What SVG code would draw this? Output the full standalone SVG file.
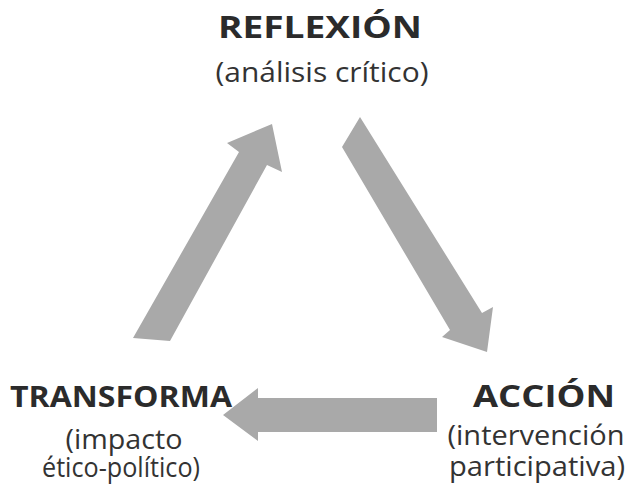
<svg xmlns="http://www.w3.org/2000/svg" width="629" height="490" viewBox="0 0 629 490">
<style>
.t{font-family:"Open Sans","Noto Sans","Liberation Sans",sans-serif;fill:#2b2b2b;text-anchor:middle}
.b{font-weight:bold}
.s{font-size:27px;fill:#333}
.a{fill:#a9a9a9}
</style>
<rect width="629" height="490" fill="#fff"/>
<g id="connectors">
<polygon class="a" points="133,338 239,152 227,143 272,124 282,172 267,165 170,341"/>
<polygon class="a" points="360,117 482,313 493,307 487,352 442,337 450,330 342,147"/>
<polygon class="a" points="437,398 258,398 258,388 223,415 258,441 258,432 437,432"/>
</g>
<g id="reflexion">
<text class="t b" x="320" y="38" font-size="30" textLength="204" lengthAdjust="spacingAndGlyphs">REFLEXIÓN</text>
<text class="t s" x="322" y="82" textLength="213" lengthAdjust="spacingAndGlyphs">(análisis crítico)</text>
</g>
<g id="accion">
<text class="t b" x="544" y="407" font-size="30" textLength="142" lengthAdjust="spacingAndGlyphs">ACCIÓN</text>
<text class="t s" x="536" y="445" textLength="177" lengthAdjust="spacingAndGlyphs">(intervención</text>
<text class="t s" x="537" y="476" textLength="176" lengthAdjust="spacingAndGlyphs">participativa)</text>
</g>
<g id="transforma">
<text class="t b" x="121" y="407" font-size="28" textLength="222" lengthAdjust="spacingAndGlyphs">TRANSFORMA</text>
<text class="t s" x="124" y="449" textLength="117" lengthAdjust="spacingAndGlyphs">(impacto</text>
<text class="t s" x="121" y="477" textLength="158" lengthAdjust="spacingAndGlyphs">ético-político)</text>
</g>
</svg>
